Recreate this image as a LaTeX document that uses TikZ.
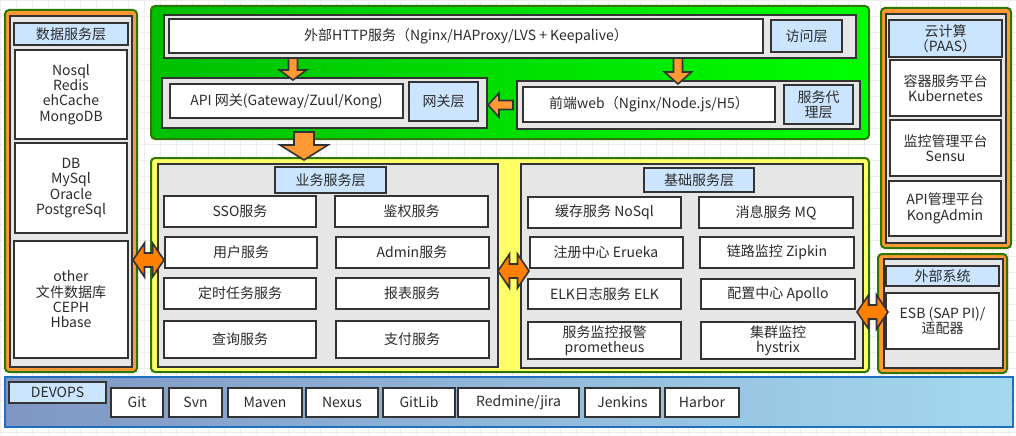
\documentclass[tikz,border=0pt]{standalone}
\usepackage{fontspec}
\setmainfont{Noto Sans CJK SC}

\definecolor{lineGray}{HTML}{333333}
\definecolor{textGray}{HTML}{2B2B2B}
\definecolor{panelGray}{HTML}{E6E6E6}
\definecolor{tagBlue}{HTML}{CCE5FF}
\definecolor{frameGreen}{HTML}{2D7600}
\definecolor{frameOrange}{HTML}{FF9933}
\definecolor{gwDark}{HTML}{00BF00}
\definecolor{gwLight}{HTML}{00FF00}
\definecolor{bizYellow}{HTML}{FFFF66}
\definecolor{arrowOrange}{HTML}{FF9933}
\definecolor{dblOrange}{HTML}{FF8000}
\definecolor{devBlue}{HTML}{1F6FC0}
\definecolor{devLeft}{HTML}{7F96C4}
\definecolor{devRight}{HTML}{A3D9EE}
\definecolor{gridLine}{HTML}{EDEDED}

\tikzset{every picture/.style={line width=0.75pt}}
\tikzset{
  boxw/.style={minimum width=#1*0.75pt},
  boxh/.style={minimum height=#1*0.75pt},
  svc/.style={draw=lineGray, fill=white, text=textGray, line width=1.5pt, inner sep=0pt, align=center, font=\fontsize{10.5pt}{11.5pt}\selectfont},
  tag/.style={svc, fill=tagBlue},
  tool/.style={svc, line width=1.2pt},
  panel/.style={draw=lineGray, fill=panelGray, line width=1.5pt},
  layerframe/.style={draw=frameGreen, line width=1.5pt, rounded corners=3pt},
  blockarr/.style={draw=lineGray, fill=arrowOrange, line width=1.2pt},
  dblarr/.style={draw=lineGray, fill=dblOrange, line width=1.2pt},
}

\begin{document}
\begin{tikzpicture}[x=0.75pt,y=0.75pt,yscale=-1,xscale=1]
	\useasboundingbox (0,0) rectangle (1016,435);
	\fill[white] (0,0) rectangle (1016,435);
	%Grid
	\draw[gridLine, line width=0.4pt, step=16] (0,0) grid (1016,435);

	% Data service layer
	\draw[layerframe, fill=frameOrange] (5,10) rectangle (137,372);
	\draw[panel] (10,16) rectangle (132,367);
	\node[tag, boxw=114, boxh=22] (dstag) at (71,34) {数据服务层};
	\node[svc, boxw=112, boxh=89] (nosql) at (71,94.5) {Nosql\\Redis\\ehCache\\MongoDB};
	\node[svc, boxw=112, boxh=90] (rdb) at (71,188) {DB\\MySql\\Oracle\\PostgreSql};
	\node[svc, boxw=114, boxh=117] (other) at (71,299.5) {other\\文件数据库\\CEPH\\Hbase};

	% Access and gateway layer
	\draw[layerframe, left color=gwDark, right color=gwLight] (151,6) rectangle (869,139);
	\draw[panel] (164,15) rectangle (856,58);
	\node[svc, boxw=594, boxh=34] (http) at (466,36) {外部HTTP服务（Nginx/HAProxy/LVS + Keepalive）};
	\node[tag, boxw=71, boxh=32] (accesstag) at (806.5,36) {访问层};
	\draw[panel] (162,78) rectangle (487,128);
	\node[svc, boxw=233, boxh=34] (api) at (286.5,101) {API 网关(Gateway/Zuul/Kong)};
	\node[tag, boxw=69, boxh=39] (gwtag) at (443.5,101.5) {网关层};
	\draw[panel] (517,81) rectangle (860,129);
	\node[svc, boxw=252, boxh=35] (web) at (649,104.5) {前端web（Nginx/Node.js/H5）};
	\node[tag, boxw=69, boxh=39] (proxytag) at (818.5,104.5) {服务代\\理层};

	%Block arrow: http -> api
	\draw[blockarr] (288.5,58) -- ++(9,0) -- ++(0,12) -- ++(9,0) -- ++(-13.5,10) -- ++(-13.5,-10) -- ++(9,0) -- cycle;
	%Block arrow: http -> web
	\draw[blockarr] (673.5,58) -- ++(9,0) -- ++(0,14) -- ++(9,0) -- ++(-13.5,12) -- ++(-13.5,-12) -- ++(9,0) -- cycle;
	%Block arrow: web -> gateway
	\draw[blockarr] (513,100.5) -- ++(-14,0) -- ++(0,-7.5) -- ++(-11,12) -- ++(11,12) -- ++(0,-7.5) -- ++(14,0) -- cycle;

	% Business and base service layer
	\draw[layerframe, fill=bizYellow] (151,158) rectangle (869,372);
	\draw[panel] (158,164) rectangle (498,367);
	\draw[panel] (521,164) rectangle (863,368);

	%Block arrow: gateway -> services
	\draw[blockarr] (294,132) -- ++(20,0) -- ++(0,13) -- ++(14,0) -- ++(-24,15) -- ++(-24,-15) -- ++(14,0) -- cycle;

	\node[tag, boxw=111, boxh=26] (biztag) at (330.5,180) {业务服务层};
	\node[svc, boxw=152, boxh=31] (sso) at (240,211.5) {SSO服务};
	\node[svc, boxw=153, boxh=31] (auth) at (411.5,211.5) {鉴权服务};
	\node[svc, boxw=152, boxh=31] (user) at (241,252.5) {用户服务};
	\node[svc, boxw=153, boxh=31] (admin) at (412,252.5) {Admin服务};
	\node[svc, boxw=152, boxh=31] (timer) at (240,293.5) {定时任务服务};
	\node[svc, boxw=153, boxh=31] (report) at (412,293.5) {报表服务};
	\node[svc, boxw=152, boxh=37] (query) at (240,339.5) {查询服务};
	\node[svc, boxw=153, boxh=37] (pay) at (412,339.5) {支付服务};

	\node[tag, boxw=110, boxh=24] (basetag) at (699,180) {基础服务层};
	\node[svc, boxw=153, boxh=31] (cache) at (604.5,212.5) {缓存服务 NoSql};
	\node[svc, boxw=154, boxh=31] (mq) at (776,212.5) {消息服务 MQ};
	\node[svc, boxw=153, boxh=31] (reg) at (606,252.5) {注册中心 Erueka};
	\node[svc, boxw=154, boxh=31] (zipkin) at (777,252.5) {链路监控 Zipkin};
	\node[svc, boxw=153, boxh=30] (elk) at (604.5,294) {ELK日志服务 ELK};
	\node[svc, boxw=154, boxh=30] (apollo) at (778,294) {配置中心 Apollo};
	\node[svc, boxw=153, boxh=37] (prom) at (604.5,340.5) {服务监控报警\\prometheus};
	\node[svc, boxw=154, boxh=37] (hystrix) at (778,340.5) {集群监控\\hystrix};

	% Cloud platform
	\draw[layerframe, fill=frameOrange] (881,8) rectangle (1011,248);
	\draw[panel] (886,14) rectangle (1006,243);
	\node[tag, boxw=113, boxh=37] (paastag) at (945.5,38.5) {云计算\\（PAAS）};
	\node[svc, boxw=111, boxh=56] (k8s) at (945.5,88) {容器服务平台\\Kubernetes};
	\node[svc, boxw=111, boxh=56] (sensu) at (945.5,148) {监控管理平台\\Sensu};
	\node[svc, boxw=112, boxh=55] (kong) at (945,208.5) {API管理平台\\KongAdmin};

	% External systems
	\draw[layerframe, fill=frameOrange] (878,254) rectangle (1007,373);
	\draw[panel] (884,259) rectangle (1003,368);
	\node[tag, boxw=113, boxh=20] (exttag) at (942.5,276) {外部系统};
	\node[svc, boxw=113, boxh=56] (esb) at (942.5,321) {ESB (SAP PI)/\\适配器};

	% DEVOPS
	\draw[draw=devBlue, line width=1.5pt, left color=devLeft, right color=devRight] (5,377) rectangle (1013,427);
	\node[tag, line width=1.2pt, boxw=97, boxh=21] (devtag) at (57.5,392.5) {DEVOPS};
	\node[tool, boxw=52, boxh=29] (git) at (137,402.5) {Git};
	\node[tool, boxw=53, boxh=29] (svn) at (195.5,402.5) {Svn};
	\node[tool, boxw=74, boxh=29] (maven) at (265,402.5) {Maven};
	\node[tool, boxw=72, boxh=29] (nexus) at (342,402.5) {Nexus};
	\node[tool, boxw=72, boxh=29] (gitlib) at (419,402.5) {GitLib};
	\node[tool, boxw=121, boxh=29] (redmine) at (518.5,402.5) {Redmine/jira};
	\node[tool, boxw=75, boxh=29] (jenkins) at (622.5,402.5) {Jenkins};
	\node[tool, boxw=74, boxh=29] (harbor) at (702,402.5) {Harbor};

	%Double arrows between layers
	\draw[dblarr, shift={(148.5,260)}] (-15.5,0) -- (-4,-17) -- (-4,-7) -- (4,-7) -- (4,-17) -- (15.5,0) -- (4,17) -- (4,7) -- (-4,7) -- (-4,17) -- cycle;
	\draw[dblarr, shift={(513.5,271)}] (-15.5,0) -- (-4,-17) -- (-4,-7) -- (4,-7) -- (4,-17) -- (15.5,0) -- (4,17) -- (4,7) -- (-4,7) -- (-4,17) -- cycle;
	\draw[dblarr, shift={(872.5,312)}] (-15.5,0) -- (-4,-17) -- (-4,-7) -- (4,-7) -- (4,-17) -- (15.5,0) -- (4,17) -- (4,7) -- (-4,7) -- (-4,17) -- cycle;

\end{tikzpicture}
\end{document}
